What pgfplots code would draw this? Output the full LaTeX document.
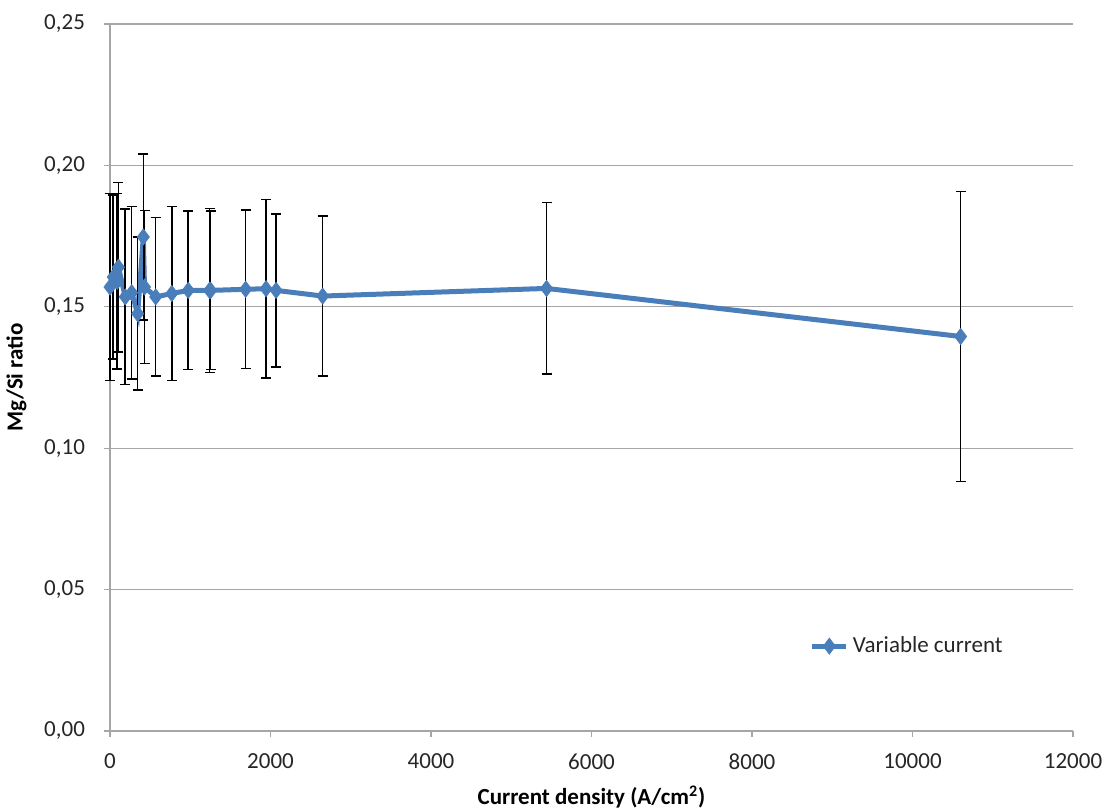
\documentclass[border=0pt]{standalone}
\usepackage{fontspec}
\setmainfont{Carlito}
\usepackage{pgfplots}
\pgfplotsset{compat=1.18}
\definecolor{xlblue}{HTML}{4A7EBB}
\definecolor{gridgray}{HTML}{A6A6A6}
\begin{document}
\begin{tikzpicture}[x=1pt,y=1pt]
\useasboundingbox (-55pt,-39.5pt) rectangle (499pt,365.5pt);
\begin{axis}[
  at={(0,0)}, anchor=south west,
  scale only axis,
  width=481.5pt, height=353.5pt,
  xmin=0, xmax=12000, ymin=0, ymax=0.25,
  xtick={0,2000,...,12000},
  ytick={0,0.05,...,0.25},
  scaled ticks=false,
  /pgf/number format/assume math mode=true,
  x tick label style={/pgf/number format/.cd, fixed, 1000 sep={}, /tikz/.cd, yshift=-5pt},
  y tick label style={/pgf/number format/.cd, fixed, fixed zerofill, precision=2, use comma, /tikz/.cd, xshift=-6pt},
  ticklabel style={font=\fontsize{11.5}{13}\selectfont, text=black!85},
  axis lines*=left,
  axis line style={gridgray, line width=0.6pt},
  tick style={gridgray, line width=0.6pt},
  tick align=outside,
  major tick length=3pt,
  ymajorgrids,
  grid style={gridgray, line width=0.6pt},
  xlabel={\bfseries Current density (A/cm\textsuperscript{2})},
  ylabel={\bfseries Mg/Si ratio},
  label style={font=\fontsize{11.5}{13}\selectfont\bfseries},
  xlabel style={yshift=-1pt},
  ylabel style={yshift=2pt},
  legend style={at={(0.72,0.12)}, anchor=west, draw=none, fill=none,
    font=\fontsize{11.5}{13}\selectfont, text=black!85},
  legend cell align=left,
  clip=false,
]
\addplot+[xlblue, line width=2.5pt, mark=diamond*, mark size=4pt,
  mark options={fill=xlblue, draw=xlblue, line width=0.4pt},
  error bars/.cd, y dir=both, y explicit,
  error bar style={black, line width=0.75pt},
  error mark options={rotate=90, black, mark size=2.5pt, line width=0.75pt}]
coordinates {
(0,0.157) +- (0,0.033)
(40,0.1605) +- (0,0.029)
(90,0.159) +- (0,0.031)
(105,0.164) +- (0,0.030)
(190,0.1535) +- (0,0.031)
(270,0.155) +- (0,0.0305)
(345,0.1476) +- (0,0.027)
(415,0.1747) +- (0,0.0293)
(430,0.157) +- (0,0.027)
(570,0.1535) +- (0,0.028)
(770,0.1547) +- (0,0.0307)
(975,0.1558) +- (0,0.028)
(1240,0.1558) +- (0,0.029)
(1255,0.1558) +- (0,0.028)
(1690,0.1562) +- (0,0.028)
(1945,0.1564) +- (0,0.0316)
(2070,0.1558) +- (0,0.027)
(2650,0.1538) +- (0,0.0283)
(5440,0.1565) +- (0,0.0303)
(10600,0.1395) +- (0,0.0513)
};
\addlegendentry{Variable current}
\end{axis}
\end{tikzpicture}
\end{document}
